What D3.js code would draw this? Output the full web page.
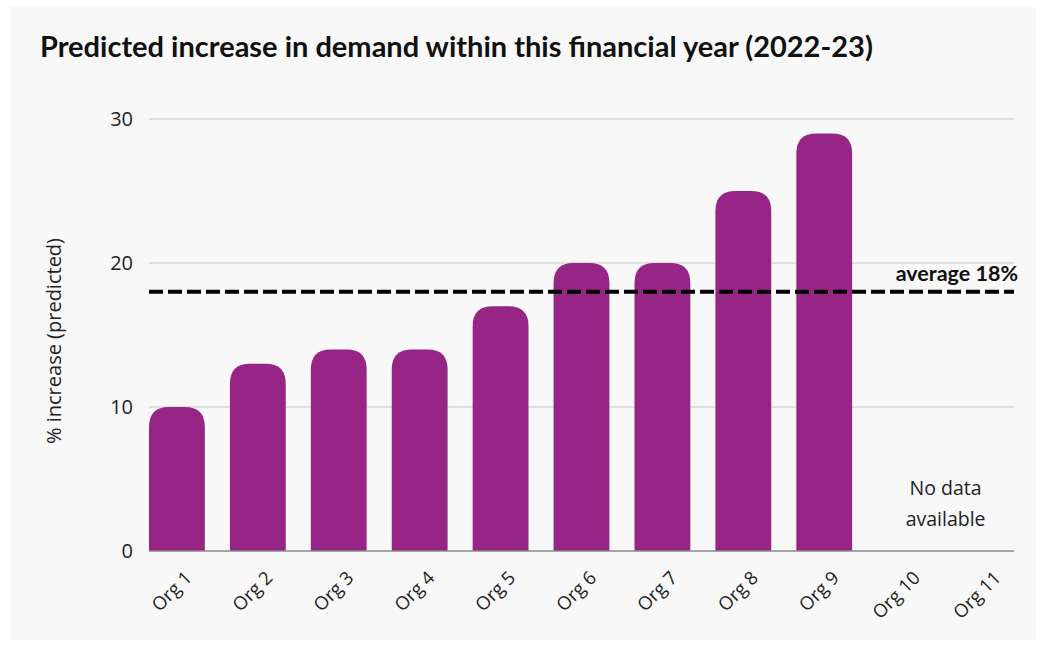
<!DOCTYPE html>
<html>
<head>
<meta charset="utf-8">
<script src="https://cdn.jsdelivr.net/npm/d3@7"></script>
<style>
  html, body { margin: 0; padding: 0; background: #ffffff; }
  svg { display: block; }
</style>
</head>
<body>
<svg id="chart" width="1043" height="646"></svg>
<script>
// Predicted increase in demand per organisation (%), null = no data
const orgs = ["Org 1","Org 2","Org 3","Org 4","Org 5","Org 6","Org 7","Org 8","Org 9","Org 10","Org 11"];
const values = [10, 13, 14, 14, 17, 20, 20, 25, 29, null, null];
const yTicks = [0, 10, 20, 30];
const averageValue = 18;
const averageLabel = "average 18%";
const noDataLines = ["No data", "available"];
const titleText = "Predicted increase in demand within this financial year (2022-23)";
const yLabel = "% increase (predicted)";

const W = 1043, H = 646;
const margin = { left: 149, right: 29, top: 119, bottom: 95 };
const svg = d3.select("#chart");
const boldFont = "Lato, 'Open Sans', sans-serif";
const font = "'Open Sans', Lato, sans-serif";
const barColor = "#972585";

// panel background
svg.append("rect").attr("x", 10).attr("y", 7).attr("width", 1026).attr("height", 633)
  .attr("fill", "#f8f8f8");

const x = d3.scaleBand().domain(orgs).range([margin.left, W - margin.right])
  .paddingInner(0.31).paddingOuter(0);
const y = d3.scaleLinear().domain([0, 30]).range([H - margin.bottom, margin.top]);

// title
svg.append("text").attr("x", 40).attr("y", 57)
  .attr("font-family", boldFont).attr("font-weight", 700).attr("font-size", 29)
  .attr("fill", "#111").text(titleText);

// gridlines
svg.append("g").selectAll("line").data(yTicks.filter(d => d > 0)).join("line")
  .attr("x1", margin.left).attr("x2", W - margin.right)
  .attr("y1", d => y(d)).attr("y2", d => y(d))
  .attr("stroke", "#c8c8c8").attr("stroke-width", 1.2);

// y axis tick labels
const yAxis = d3.axisLeft(y).tickValues(yTicks).tickSize(0).tickPadding(16);
const yg = svg.append("g").attr("transform", `translate(${margin.left},0)`).call(yAxis);
yg.select(".domain").remove();
yg.selectAll("text").attr("font-family", font).attr("font-size", 20).attr("fill", "#222");

// y axis title
svg.append("text")
  .attr("transform", `translate(61, ${(y(0) + y(30)) / 2 + 6}) rotate(-90)`)
  .attr("text-anchor", "middle")
  .attr("font-family", font).attr("font-size", 20).attr("fill", "#222")
  .text(yLabel);

// bars with rounded tops
const r = 20;
function barPath(d, i) {
  const x0 = x(orgs[i]), w = x.bandwidth();
  const yt = y(d), yb = y(0);
  const rr = Math.min(r, (yb - yt));
  return `M${x0},${yb} L${x0},${yt + rr} Q${x0},${yt} ${x0 + rr},${yt} ` +
         `L${x0 + w - rr},${yt} Q${x0 + w},${yt} ${x0 + w},${yt + rr} L${x0 + w},${yb} Z`;
}
svg.append("g").selectAll("path")
  .data(values.map((v, i) => ({ v, i })).filter(d => d.v != null))
  .join("path")
  .attr("d", d => barPath(d.v, d.i))
  .attr("fill", barColor);

// baseline
svg.append("line").attr("x1", margin.left).attr("x2", W - margin.right)
  .attr("y1", y(0)).attr("y2", y(0)).attr("stroke", "#8a8a8a").attr("stroke-width", 1.5);

// x axis labels
const xAxis = d3.axisBottom(x).tickSize(0).tickPadding(0);
const xg = svg.append("g").attr("transform", `translate(0,${y(0)})`).call(xAxis);
xg.select(".domain").remove();
xg.selectAll("text")
  .attr("font-family", font).attr("font-size", 18.5).attr("fill", "#222")
  .attr("text-anchor", "end").attr("dy", 0)
  .attr("transform", "translate(16,28) rotate(-45)");

// average line
svg.append("line").attr("x1", margin.left).attr("x2", W - margin.right)
  .attr("y1", y(averageValue)).attr("y2", y(averageValue))
  .attr("stroke", "#000").attr("stroke-width", 4).attr("stroke-dasharray", "14,5");
svg.append("text").attr("x", 1018).attr("y", y(averageValue) - 11)
  .attr("text-anchor", "end")
  .attr("font-family", boldFont).attr("font-weight", 700).attr("font-size", 21.5)
  .attr("fill", "#111").text(averageLabel);

// no data note
const noteX = (x("Org 10") + x("Org 11") + x.bandwidth()) / 2;
svg.append("g").selectAll("text").data(noDataLines).join("text")
  .attr("x", noteX).attr("y", (d, i) => 495 + i * 31)
  .attr("text-anchor", "middle")
  .attr("font-family", font).attr("font-size", 19.5).attr("fill", "#222")
  .text(d => d);
</script>
</body>
</html>
